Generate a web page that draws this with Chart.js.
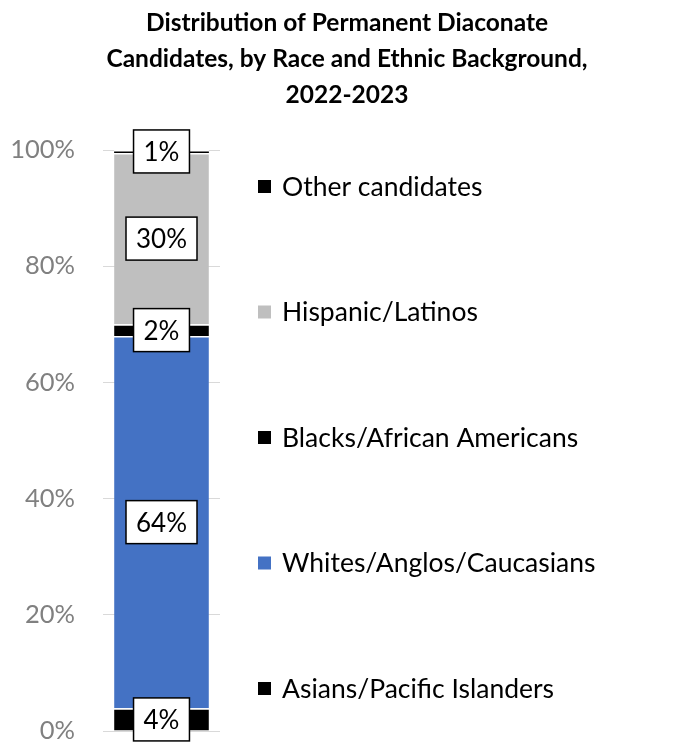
<!DOCTYPE html>
<html>
<head>
<meta charset="utf-8">
<script src="https://cdn.jsdelivr.net/npm/chart.js@4.4.1/dist/chart.umd.min.js"></script>
<style>
  html, body { margin: 0; padding: 0; background: #ffffff; }
  #wrap { width: 694px; height: 746px; }
</style>
</head>
<body>
<div id="wrap"><canvas id="chart" width="694" height="746"></canvas></div>
<script>
// data (percent of candidates, bottom to top)
const categories = ['2022-2023'];
const seriesNames = [
  'Asians/Pacific Islanders',
  'Whites/Anglos/Caucasians',
  'Blacks/African Americans',
  'Hispanic/Latinos',
  'Other candidates'
];
const asians = [3.9];
const whites = [64.1];
const blacks = [2.0];
const hispanics = [29.5];
const others = [0.5];
const seriesColors = ['#000000', '#4472C4', '#000000', '#BFBFBF', '#000000'];
const yTicks = [0, 20, 40, 60, 80, 100];
const titleLines = [
  'Distribution of Permanent Diaconate',
  'Candidates, by Race and Ethnic Background,',
  '2022-2023'
];

const FONT = 'Lato, "Open Sans", sans-serif';
const allSeries = [asians, whites, blacks, hispanics, others];

// title drawn across the full width (the chart area itself is narrow)
const wideTitle = {
  id: 'wideTitle',
  afterDraw(chart) {
    const ctx = chart.ctx;
    ctx.save();
    ctx.font = 'bold 24.5px ' + FONT;
    ctx.fillStyle = '#000000';
    ctx.textAlign = 'center';
    ctx.textBaseline = 'middle';
    titleLines.forEach((line, i) => {
      ctx.fillText(line, chart.width / 2, 23 + i * 36);
    });
    ctx.restore();
  }
};

// white boxes with the rounded percentage in the middle of each segment
const boxLabels = {
  id: 'boxLabels',
  afterDatasetsDraw(chart) {
    const ctx = chart.ctx;
    ctx.save();
    ctx.font = '26px ' + FONT;
    ctx.textAlign = 'center';
    ctx.textBaseline = 'middle';
    chart.data.datasets.forEach((ds, i) => {
      const meta = chart.getDatasetMeta(i);
      meta.data.forEach((bar, j) => {
        const text = Math.round(ds.data[j]) + '%';
        const cy = (bar.y + bar.base) / 2;
        const w = ctx.measureText(text).width + 20;
        const h = 43;
        ctx.fillStyle = '#ffffff';
        ctx.fillRect(bar.x - w / 2, cy - h / 2, w, h);
        ctx.lineWidth = 1.5;
        ctx.strokeStyle = '#000000';
        ctx.strokeRect(bar.x - w / 2, cy - h / 2, w, h);
        ctx.fillStyle = '#000000';
        ctx.fillText(text, bar.x, cy + 1);
      });
    });
    ctx.restore();
  }
};

// legend on the right, spread out like the Excel original
const sideLegend = {
  id: 'sideLegend',
  afterDraw(chart) {
    const ctx = chart.ctx;
    const top = 186, step = 125.5, x = 258;
    ctx.save();
    ctx.font = '26.5px ' + FONT;
    ctx.textBaseline = 'middle';
    const n = chart.data.datasets.length;
    for (let k = 0; k < n; k++) {
      const ds = chart.data.datasets[n - 1 - k];
      const y = top + k * step;
      ctx.fillStyle = ds.backgroundColor;
      ctx.fillRect(x, y - 6, 13, 13);
      ctx.fillStyle = '#000000';
      ctx.fillText(ds.label, x + 24, y + 1);
    }
    ctx.restore();
  }
};

new Chart(document.getElementById('chart'), {
  type: 'bar',
  data: {
    labels: categories,
    datasets: seriesNames.map((name, i) => ({
      label: name,
      data: allSeries[i],
      backgroundColor: seriesColors[i],
      borderColor: '#ffffff',
      borderWidth: { top: 1.5, bottom: 0, left: 0, right: 0 },
      borderSkipped: false,
      barPercentage: 0.81,
      categoryPercentage: 1
    }))
  },
  options: {
    responsive: false,
    animation: false,
    layout: { padding: { left: 0, right: 474, top: 150, bottom: 15 } },
    plugins: {
      legend: { display: false },
      tooltip: { enabled: false },
      title: { display: false }
    },
    scales: {
      x: { stacked: true, display: false },
      y: {
        stacked: true,
        min: 0,
        max: 100,
        afterBuildTicks(scale) {
          scale.ticks = yTicks.map(v => ({ value: v }));
        },
        afterFit(scale) {
          scale.width = 103;
          scale.paddingTop = 0;
          scale.paddingBottom = 0;
        },
        border: { display: false },
        grid: { color: '#D9D9D9', lineWidth: 1, drawTicks: false },
        ticks: {
          padding: 28,
          color: '#808080',
          font: { family: FONT, size: 25.5 },
          callback: v => v + '%'
        }
      }
    }
  },
  plugins: [wideTitle, boxLabels, sideLegend]
});
</script>
</body>
</html>
